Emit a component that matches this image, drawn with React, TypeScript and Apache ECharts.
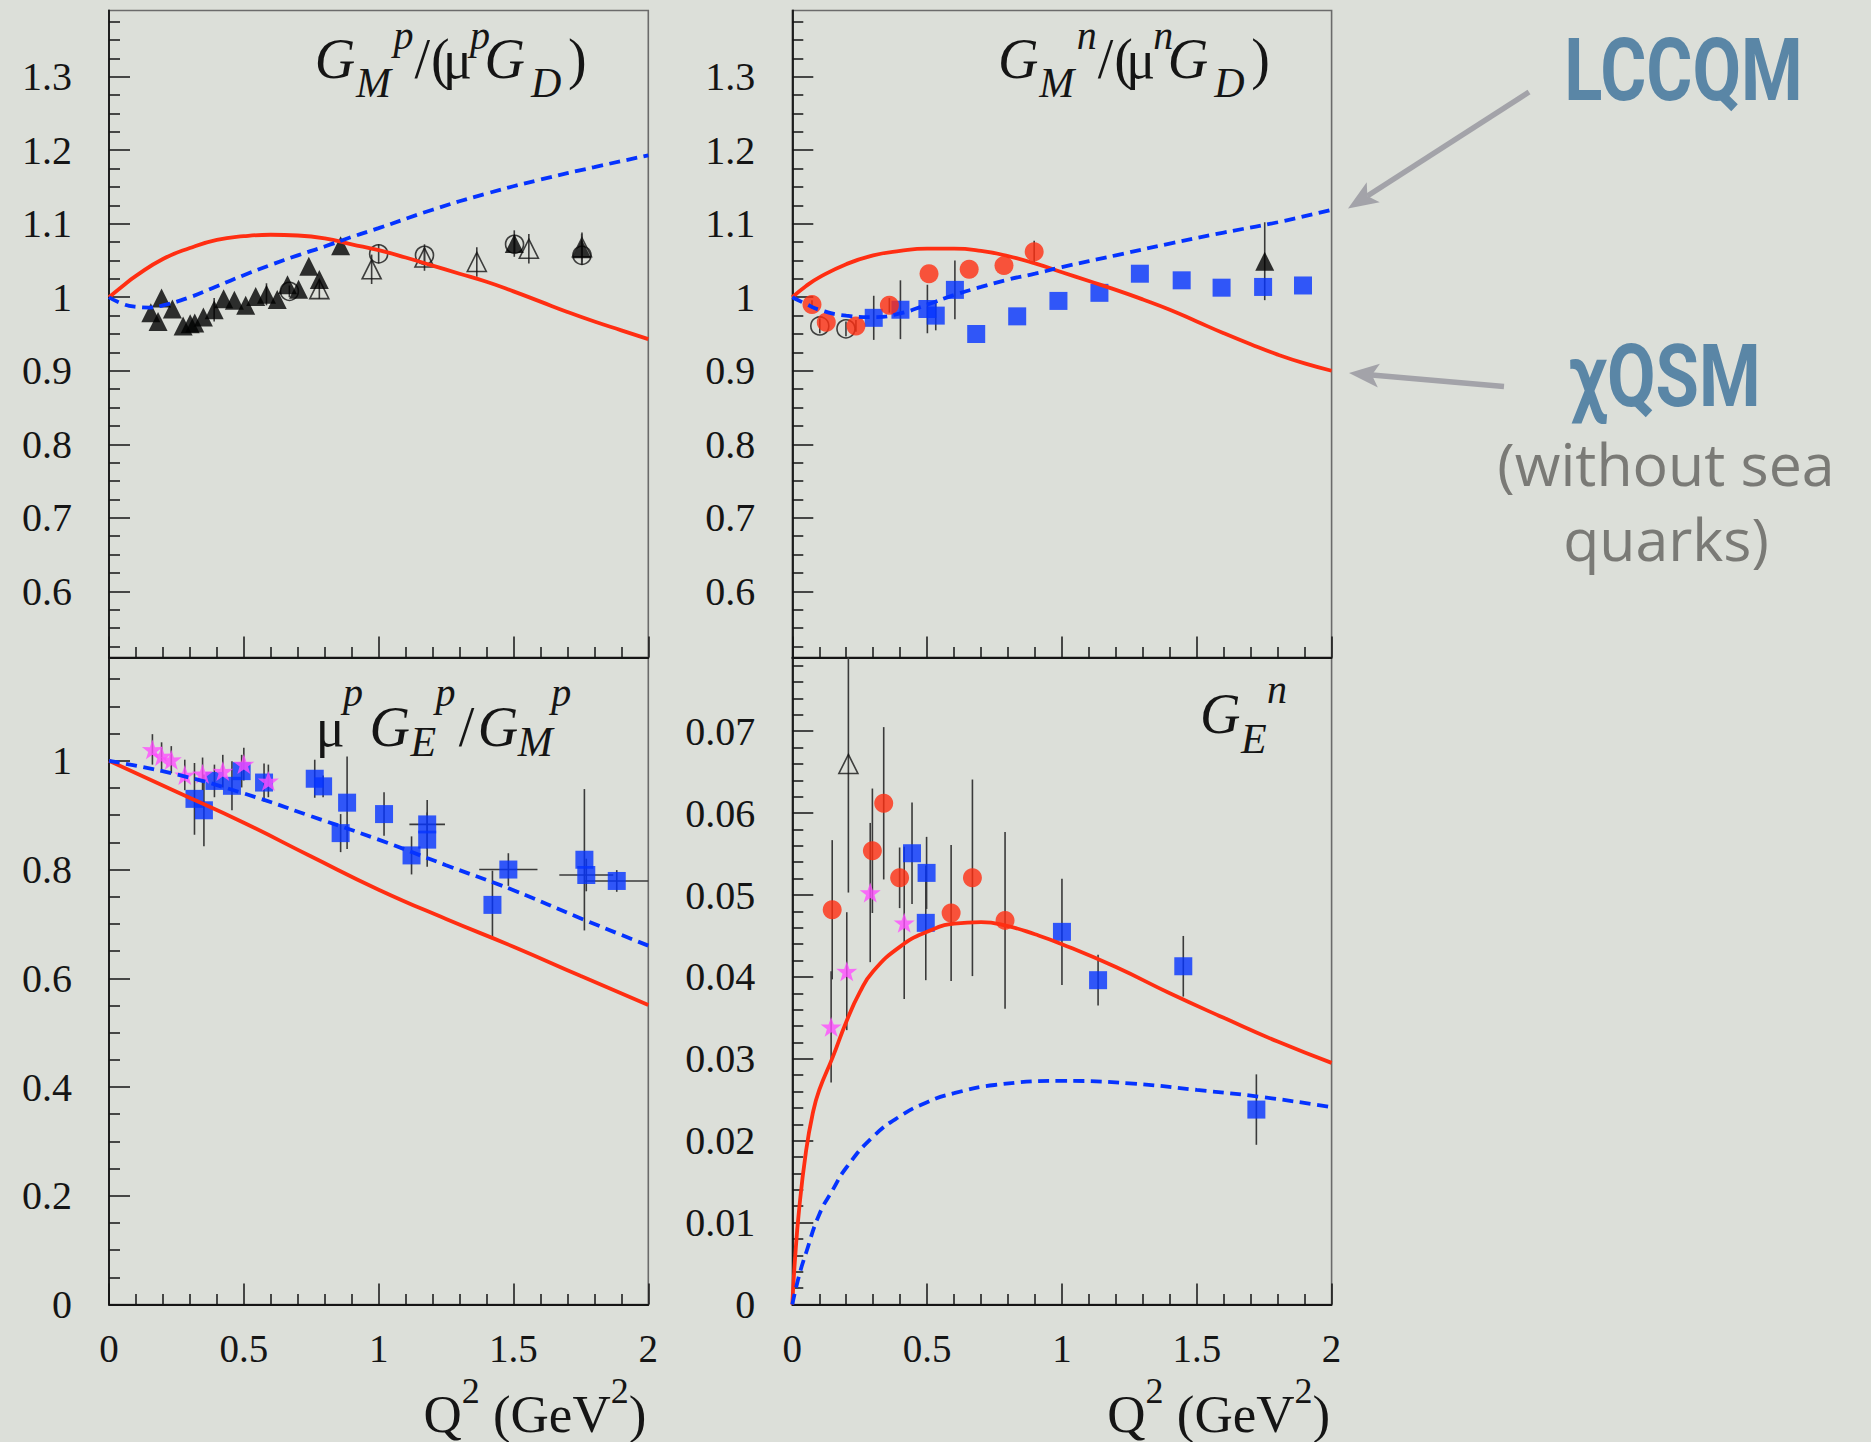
import { useEffect, useRef } from "react";
import * as echarts from "echarts";

const WIDTH = 1871;
const HEIGHT = 1442;
const BG = "#dcdfd9";
const RED = "#ff2e12";
const BLUE = "#0533ff";
const MAGENTA = "#ff4dff";
const INK = "#151515";
const FRAME = "#6b6b6b";
const BAR = "#3a3a3a";
const ARROW = "#a3a3a9";
const STEEL = "#5a86a6";
const GREY_TEXT = "#7a7a76";
const SERIF = '"Liberation Serif", "Times New Roman", serif';

// ---------- axis ticks ----------
const gmTicks = [0.6, 0.7, 0.8, 0.9, 1, 1.1, 1.2, 1.3];
const gepTicks = [0, 0.2, 0.4, 0.6, 0.8, 1];
const genTicks = [0, 0.01, 0.02, 0.03, 0.04, 0.05, 0.06, 0.07];

// ---------- G_M^p / (mu_p G_D) ----------
const gmpChiX = [0, 0.05, 0.1, 0.2, 0.3, 0.4, 0.5, 0.6, 0.7, 0.8, 0.9, 1.0, 1.1, 1.2, 1.3, 1.4, 1.5, 1.6, 1.7, 1.8, 1.9, 2.0];
const gmpChiY = [1.0, 1.015, 1.029, 1.052, 1.067, 1.078, 1.083, 1.085, 1.084, 1.08, 1.072, 1.064, 1.054, 1.043, 1.032, 1.021, 1.008, 0.994, 0.98, 0.967, 0.955, 0.943];
const gmpLcX = [0, 0.05, 0.1, 0.15, 0.2, 0.3, 0.4, 0.5, 0.6, 0.7, 0.8, 0.9, 1.0, 1.2, 1.4, 1.6, 1.8, 2.0];
const gmpLcY = [1.0, 0.991, 0.987, 0.986, 0.989, 1.0, 1.015, 1.03, 1.044, 1.057, 1.069, 1.082, 1.094, 1.119, 1.141, 1.16, 1.177, 1.193];
// [Q2, value, error]
const gmpFilledTri = [
  [0.155, 0.979], [0.182, 0.967], [0.195, 0.999], [0.235, 0.984], [0.275, 0.961], [0.301, 0.964],
  [0.318, 0.965], [0.35, 0.973], [0.39, 0.983, 0.016], [0.425, 0.998], [0.465, 0.996], [0.507, 0.989],
  [0.544, 1.001], [0.584, 1.004, 0.015], [0.624, 0.997], [0.662, 1.017], [0.703, 1.011], [0.741, 1.042],
  [0.78, 1.024], [0.859, 1.07], [1.503, 1.073, 0.018], [1.753, 1.066, 0.02],
];
const gmpOpenTri = [[0.78, 1.011, 0.013], [0.974, 1.038, 0.02], [1.17, 1.054, 0.018], [1.364, 1.048, 0.02], [1.557, 1.066, 0.02], [1.754, 1.068, 0.02]];
const gmpOpenCircle = [[0.669, 1.008, 0.008], [1.0, 1.059, 0.013], [1.17, 1.057, 0.01], [1.504, 1.072, 0.012], [1.754, 1.057, 0.013]];

// ---------- G_M^n / (mu_n G_D) ----------
const gmnChiX = [0, 0.05, 0.1, 0.2, 0.3, 0.4, 0.5, 0.6, 0.7, 0.8, 0.9, 1.0, 1.1, 1.2, 1.3, 1.4, 1.5, 1.6, 1.7, 1.8, 1.9, 2.0];
const gmnChiY = [1.0, 1.015, 1.027, 1.045, 1.057, 1.063, 1.066, 1.066, 1.063, 1.056, 1.046, 1.034, 1.022, 1.01, 0.997, 0.983, 0.967, 0.951, 0.936, 0.922, 0.91, 0.9];
const gmnLcX = [0, 0.05, 0.1, 0.2, 0.3, 0.4, 0.5, 0.6, 0.7, 0.8, 0.9, 1.0, 1.2, 1.4, 1.6, 1.8, 2.0];
const gmnLcY = [1.0, 0.991, 0.983, 0.975, 0.973, 0.978, 0.99, 1.003, 1.014, 1.024, 1.032, 1.041, 1.057, 1.073, 1.088, 1.102, 1.119];
const gmnRedCircle = [[0.073, 0.99, 0.006], [0.126, 0.966], [0.236, 0.961, 0.008], [0.36, 0.989, 0.01], [0.507, 1.032], [0.656, 1.038], [0.785, 1.043], [0.897, 1.062, 0.015]];
const gmnOpenCircle = [[0.102, 0.961, 0.01], [0.199, 0.957, 0.01]];
const gmnSquare = [
  [0.302, 0.972, 0.03], [0.401, 0.983, 0.04], [0.501, 0.984, 0.033], [0.532, 0.975, 0.02], [0.603, 1.01, 0.04],
  [0.682, 0.95], [0.834, 0.974], [0.987, 0.995], [1.139, 1.006], [1.289, 1.032], [1.444, 1.023], [1.592, 1.013],
  [1.746, 1.014], [1.894, 1.016],
];
const gmnFilledTri = [[1.752, 1.049, 0.053]];

// ---------- mu_p G_E^p / G_M^p ----------
const gepChiX = [0, 0.25, 0.5, 0.75, 1.0, 1.25, 1.5, 1.75, 2.0];
const gepChiY = [1.0, 0.943, 0.886, 0.824, 0.763, 0.709, 0.658, 0.604, 0.551];
const gepLcX = [0, 0.25, 0.5, 0.75, 1.0, 1.25, 1.5, 1.75, 2.0];
const gepLcY = [1.0, 0.975, 0.94, 0.898, 0.855, 0.808, 0.762, 0.71, 0.66];
// [Q2, value, error, Q2 error]
const gepSquare = [
  [0.317, 0.93, 0.066], [0.352, 0.909, 0.066], [0.391, 0.963, 0.03], [0.456, 0.954, 0.045], [0.492, 0.981, 0.03],
  [0.575, 0.96, 0.035], [0.763, 0.967, 0.035], [0.794, 0.953, 0.02], [0.859, 0.867, 0.035], [0.883, 0.923, 0.085],
  [1.02, 0.902, 0.04], [1.122, 0.826, 0.035], [1.18, 0.883, 0.045, 0.066], [1.18, 0.855, 0.05], [1.422, 0.735, 0.063],
  [1.481, 0.8, 0.03, 0.108], [1.763, 0.818, 0.13], [1.77, 0.79, 0.03, 0.1], [1.883, 0.779, 0.02, 0.12],
];
const gepStar = [[0.161, 1.021, 0.028], [0.195, 1.009, 0.025], [0.231, 1.002, 0.025], [0.281, 0.974, 0.028], [0.347, 0.976, 0.03], [0.422, 0.981, 0.03], [0.5, 0.994, 0.03], [0.591, 0.963, 0.03]];

// ---------- G_E^n ----------
const genChiX = [0, 0.01, 0.025, 0.05, 0.075, 0.1, 0.15, 0.2, 0.25, 0.3, 0.4, 0.5, 0.6, 0.7, 0.8, 0.9, 1.0, 1.2, 1.4, 1.6, 1.8, 2.0];
const genChiY = [0, 0.0055, 0.0115, 0.0185, 0.0232, 0.0262, 0.0302, 0.0345, 0.0381, 0.0407, 0.0437, 0.0455, 0.0465, 0.0467, 0.0462, 0.0452, 0.044, 0.0412, 0.038, 0.035, 0.0321, 0.0295];
const genLcX = [0, 0.025, 0.05, 0.1, 0.15, 0.2, 0.3, 0.4, 0.5, 0.6, 0.75, 1.0, 1.25, 1.5, 1.75, 2.0];
const genLcY = [0, 0.0035, 0.0062, 0.011, 0.014, 0.0167, 0.0205, 0.023, 0.0247, 0.0258, 0.0268, 0.0273, 0.027, 0.0262, 0.0253, 0.0241];
const genRedCircle = [[0.148, 0.0482, 0.0085], [0.297, 0.0554, 0.0076], [0.339, 0.0612, 0.0093], [0.398, 0.0521, 0.0037], [0.589, 0.0478, 0.0083], [0.668, 0.0521, 0.012], [0.789, 0.0469, 0.0108]];
const genSquare = [[0.444, 0.0551, 0.0062], [0.498, 0.0527, 0.0044], [0.495, 0.0466, 0.007], [1.0, 0.0455, 0.0065], [1.134, 0.0396, 0.0031], [1.45, 0.0413, 0.0037], [1.721, 0.0238, 0.0043]];
const genStar = [[0.144, 0.0339, 0.0068], [0.202, 0.0407, 0.0072], [0.289, 0.0503, 0.0085], [0.415, 0.0466, 0.0093]];
const genOpenTri = [[0.208, 0.066, 0.0157]];

// ---------- layout ----------
const PANEL_W = 539.3;
const PANEL_H = 647;
const LEFT_X = 109;
const RIGHT_X = 792.3;
const TOP_Y = 10.5;
const MID_Y = 657.5;

const panels = [
  { left: LEFT_X, top: TOP_Y, yMin: 0.51, yMax: 1.39, major: gmTicks, minorStep: 0.025, xLabels: false },
  { left: RIGHT_X, top: TOP_Y, yMin: 0.51, yMax: 1.39, major: gmTicks, minorStep: 0.025, xLabels: false },
  { left: LEFT_X, top: MID_Y, yMin: 0, yMax: 1.19, major: gepTicks, minorStep: 0.05, xLabels: true },
  { left: RIGHT_X, top: MID_Y, yMin: 0, yMax: 0.079, major: genTicks, minorStep: 0.002, xLabels: true },
];

const STAR = "path://M50,0 L61.8,35.1 L97.6,34.5 L69.1,56.6 L79.4,90.5 L50,70 L20.6,90.5 L30.9,56.6 L2.4,34.5 L38.2,35.1 Z";

function minorTicks(min: number, max: number, step: number, majors: number[]) {
  const out: number[] = [];
  for (let k = Math.ceil(min / step - 1e-9); k * step <= max + 1e-9; k++) {
    const v = +(k * step).toFixed(6);
    if (!majors.some((m) => Math.abs(m - v) < 1e-9)) out.push(v);
  }
  return out;
}

const tickLine = { color: INK, width: 1.5 };

function buildAxes() {
  const grids: any[] = [];
  const xAxes: any[] = [];
  const yAxes: any[] = [];
  panels.forEach((p, i) => {
    grids.push({
      left: p.left, top: p.top, width: PANEL_W, height: PANEL_H,
      show: true, borderColor: FRAME, borderWidth: 1.6, backgroundColor: "transparent",
    });
    xAxes.push({
      gridIndex: i, type: "value", min: 0, max: 2, interval: 0.5,
      axisLine: { show: true, onZero: false, lineStyle: { color: INK, width: 1.8 } },
      axisTick: { show: true, inside: true, length: 21, lineStyle: tickLine },
      minorTick: { show: true, splitNumber: 5, length: 10.5, lineStyle: tickLine },
      splitLine: { show: false },
      minorSplitLine: { show: false },
      axisLabel: {
        show: p.xLabels, margin: 24, fontFamily: SERIF, fontSize: 39, lineHeight: 39, color: INK,
        showMinLabel: true, showMaxLabel: true,
        formatter: (v: number) => `${+v.toFixed(3)}`,
      },
    });
    yAxes.push({
      gridIndex: i, type: "value", position: "left", min: p.yMin, max: p.yMax,
      axisLine: { show: true, onZero: false, lineStyle: { color: INK, width: 1.8 } },
      axisTick: { show: true, inside: true, length: 21, customValues: p.major, lineStyle: tickLine },
      axisLabel: {
        show: true, customValues: p.major, margin: 37, fontFamily: SERIF, fontSize: 40, lineHeight: 40, color: INK,
        formatter: (v: number) => `${+v.toFixed(4)}`,
      },
      splitLine: { show: false },
    });
    yAxes.push({
      gridIndex: i, type: "value", position: "left", offset: 0, min: p.yMin, max: p.yMax,
      axisLine: { show: false },
      axisTick: { show: true, inside: true, length: 11, customValues: minorTicks(p.yMin, p.yMax, p.minorStep, p.major), lineStyle: tickLine },
      axisLabel: { show: false },
      splitLine: { show: false },
    });
  });
  return { grids, xAxes, yAxes };
}

function curve(panel: number, xs: number[], ys: number[], dashed: boolean) {
  return {
    type: "line", xAxisIndex: panel, yAxisIndex: panel * 2, z: 4, silent: true,
    symbol: "none", smooth: 0.5, clip: true,
    data: xs.map((x, k) => [x, ys[k]]),
    lineStyle: dashed ? { color: BLUE, width: 3.8, type: [11, 6.5] } : { color: RED, width: 3.8 },
  };
}

function markers(panel: number, pts: number[][], symbol: string, size: number, itemStyle: any) {
  return {
    type: "scatter", xAxisIndex: panel, yAxisIndex: panel * 2, z: 3, silent: true,
    symbol, symbolSize: size, symbolKeepAspect: true, itemStyle,
    data: pts.map((p) => [p[0], p[1]]),
  };
}

function errorBars(panel: number, pts: number[][]) {
  return {
    type: "custom", xAxisIndex: panel, yAxisIndex: panel * 2, z: 2, silent: true,
    data: pts.map((p) => [p[0], p[1], p[2] || 0, p[3] || 0]),
    renderItem: (params: any, api: any) => {
      const cs = params.coordSys;
      const cy = (v: number) => Math.max(cs.y, Math.min(cs.y + cs.height, v));
      const cx = (v: number) => Math.max(cs.x, Math.min(cs.x + cs.width, v));
      const x = api.value(0);
      const y = api.value(1);
      const ey = api.value(2);
      const ex = api.value(3);
      const kids: any[] = [];
      const style = { stroke: BAR, lineWidth: 1.6 };
      if (ey > 0) {
        const lo = api.coord([x, y - ey]);
        const hi = api.coord([x, y + ey]);
        kids.push({ type: "line", shape: { x1: lo[0], y1: cy(lo[1]), x2: hi[0], y2: cy(hi[1]) }, style });
      }
      if (ex > 0) {
        const lo = api.coord([x - ex, y]);
        const hi = api.coord([x + ex, y]);
        kids.push({ type: "line", shape: { x1: cx(lo[0]), y1: lo[1], x2: cx(hi[0]), y2: hi[1] }, style });
      }
      return { type: "group", children: kids };
    },
  };
}

const filled = (c: string) => ({ color: c });
const hollow = { color: "transparent", borderColor: INK, borderWidth: 1.6 };

function buildSeries() {
  return [
    // G_M^p
    errorBars(0, [...gmpFilledTri, ...gmpOpenTri, ...gmpOpenCircle]),
    markers(0, gmpOpenCircle, "circle", 18, hollow),
    markers(0, gmpOpenTri, "triangle", 19, hollow),
    markers(0, gmpFilledTri, "triangle", 19, filled("#000")),
    curve(0, gmpChiX, gmpChiY, false),
    curve(0, gmpLcX, gmpLcY, true),
    // G_M^n
    errorBars(1, [...gmnRedCircle, ...gmnOpenCircle, ...gmnSquare, ...gmnFilledTri]),
    markers(1, gmnOpenCircle, "circle", 18, hollow),
    markers(1, gmnSquare, "rect", 18, filled(BLUE)),
    markers(1, gmnRedCircle, "circle", 19, filled(RED)),
    markers(1, gmnFilledTri, "triangle", 19, filled("#000")),
    curve(1, gmnChiX, gmnChiY, false),
    curve(1, gmnLcX, gmnLcY, true),
    // G_E^p / G_M^p
    errorBars(2, [...gepSquare, ...gepStar]),
    markers(2, gepSquare, "rect", 18, filled(BLUE)),
    markers(2, gepStar, STAR, 21, filled(MAGENTA)),
    curve(2, gepChiX, gepChiY, false),
    curve(2, gepLcX, gepLcY, true),
    // G_E^n
    errorBars(3, [...genRedCircle, ...genSquare, ...genStar, ...genOpenTri]),
    markers(3, genOpenTri, "triangle", 19, hollow),
    markers(3, genRedCircle, "circle", 19, filled(RED)),
    markers(3, genSquare, "rect", 18, filled(BLUE)),
    markers(3, genStar, STAR, 21, filled(MAGENTA)),
    curve(3, genChiX, genChiY, false),
    curve(3, genLcX, genLcY, true),
  ];
}

// ---------- text helpers ----------
// Liberation Serif: central baseline sits ~0.337 em above the alphabetic one
const SERIF_CENTRAL = 0.337;

type Piece = [string, number, number, number, boolean];

function texPieces(pieces: Piece[]) {
  return pieces.map(([t, x, base, size, italic]) => ({
    type: "text", x, y: base - SERIF_CENTRAL * size, silent: true,
    style: {
      text: t, fontFamily: SERIF, fontSize: size, fontStyle: italic ? "italic" : "normal",
      fill: INK, align: "left", verticalAlign: "middle",
    },
  }));
}

function shiftPieces(pieces: Piece[], dx: number, swap?: [string, string]): Piece[] {
  return pieces.map(([t, x, b, s, i]) => [swap && t === swap[0] ? swap[1] : t, x + dx, b, s, i]);
}

const MAIN = 56;
const SUB = 42;
const SUP = 40;
const MU = 54;

const gmpTitle: Piece[] = [
  ["G", 314.8, 78, MAIN, true], ["M", 356, 97.6, SUB, true], ["p", 393.5, 49, SUP, true],
  ["/", 414.5, 78, MAIN, false], ["(", 431, 78, MAIN, false], ["μ", 443, 78, MU, false],
  ["p", 470, 49, SUP, true], ["G", 484.5, 78, MAIN, true], ["D", 531, 97.6, SUB, true], [")", 568, 78, MAIN, false],
];
const gmnTitle = shiftPieces(gmpTitle, RIGHT_X - LEFT_X, ["p", "n"]);
const gepTitle: Piece[] = [
  ["μ", 315.7, 746, MU, false], ["p", 343, 706, SUP, true], ["G", 369.5, 746, MAIN, true], ["E", 410.4, 756, SUB, true],
  ["p", 435.6, 706, SUP, true], ["/", 458.8, 746, MAIN, false], ["G", 477.7, 746, MAIN, true], ["M", 517.7, 756, SUB, true],
  ["p", 551.3, 706, SUP, true],
];
const genTitle: Piece[] = [
  ["G", 1199.9, 733.3, MAIN, true], ["E", 1241, 753.5, SUB, true], ["n", 1267.1, 703, SUP, true],
];

let measureCtx: CanvasRenderingContext2D | null = null;
function textWidth(text: string, size: number) {
  if (!measureCtx) measureCtx = document.createElement("canvas").getContext("2d");
  measureCtx!.font = `${size}px "Liberation Serif"`;
  return measureCtx!.measureText(text).width;
}

// "Q^2 (GeV^2)" right-aligned at the panel's right edge
function axisName(rightEdge: number) {
  const BIG = 53, SMALL = 36, BASE = 1431.7, SUP_BASE = 1403;
  const parts: [string, boolean][] = [["Q", false], ["2", true], [" (GeV", false], ["2", true], [")", false]];
  const widths = parts.map(([t, sup]) => textWidth(t, sup ? SMALL : BIG));
  let x = rightEdge - widths.reduce((a, b) => a + b, 0);
  const pieces: Piece[] = [];
  parts.forEach(([t, sup], k) => {
    pieces.push([t, x, sup ? SUP_BASE : BASE, sup ? SMALL : BIG, false]);
    x += widths[k];
  });
  return texPieces(pieces);
}

function arrow(sx: number, sy: number, tx: number, ty: number) {
  const len = Math.hypot(tx - sx, ty - sy);
  const ux = (tx - sx) / len;
  const uy = (ty - sy) / len;
  const nx = -uy;
  const ny = ux;
  const L = 30, HW = 12, NOTCH = 7;
  const bx = tx - ux * L;
  const by = ty - uy * L;
  const nxp = bx + ux * NOTCH;
  const nyp = by + uy * NOTCH;
  return [
    { type: "line", silent: true, shape: { x1: sx, y1: sy, x2: nxp, y2: nyp }, style: { stroke: ARROW, lineWidth: 5.5 } },
    {
      type: "polygon", silent: true,
      shape: { points: [[tx, ty], [bx + nx * HW, by + ny * HW], [nxp, nyp], [bx - nx * HW, by - ny * HW]] },
      style: { fill: ARROW },
    },
  ];
}

function annotations() {
  const ROBOTO_CENTRAL = 0.342;
  const OPEN_CENTRAL = 0.388;
  return [
    {
      type: "text", x: 1683.5, y: 100 - ROBOTO_CENTRAL * 87, scaleX: 0.81, silent: true,
      style: { text: "LCCQM", fontFamily: "Roboto", fontWeight: "bold", fontSize: 87, fill: STEEL, align: "center", verticalAlign: "middle" },
    },
    {
      type: "text", x: 1665, y: 405.7 - ROBOTO_CENTRAL * 87, scaleX: 0.81, silent: true,
      style: { text: "χQSM", fontFamily: "Roboto", fontWeight: "bold", fontSize: 87, fill: STEEL, align: "center", verticalAlign: "middle" },
    },
    {
      type: "text", x: 1666, y: 486 - OPEN_CENTRAL * 59, silent: true,
      style: { text: "(without sea", fontFamily: '"Open Sans"', fontSize: 59, fill: GREY_TEXT, align: "center", verticalAlign: "middle" },
    },
    {
      type: "text", x: 1666, y: 560.7 - OPEN_CENTRAL * 59, silent: true,
      style: { text: "quarks)", fontFamily: '"Open Sans"', fontSize: 59, fill: GREY_TEXT, align: "center", verticalAlign: "middle" },
    },
    ...arrow(1529, 92, 1348, 208.5),
    ...arrow(1504, 386.5, 1349, 373),
  ];
}

function buildOption() {
  const { grids, xAxes, yAxes } = buildAxes();
  return {
    animation: false,
    backgroundColor: BG,
    textStyle: { fontFamily: SERIF },
    grid: grids,
    xAxis: xAxes,
    yAxis: yAxes,
    series: buildSeries(),
    graphic: {
      elements: [
        ...texPieces(gmpTitle),
        ...texPieces(gmnTitle),
        ...texPieces(gepTitle),
        ...texPieces(genTitle),
        ...axisName(LEFT_X + PANEL_W - 2),
        ...axisName(RIGHT_X + PANEL_W - 1.5),
        ...annotations(),
      ],
    },
  };
}

export default function App() {
  const ref = useRef<HTMLDivElement>(null);
  useEffect(() => {
    if (!ref.current) return;
    const chart = echarts.init(ref.current, null, { renderer: "svg" });
    chart.setOption(buildOption() as any);
    return () => chart.dispose();
  }, []);
  return (
    <div
      ref={ref}
      style={{ position: "fixed", left: 0, top: 0, width: WIDTH, height: HEIGHT, background: BG }}
    />
  );
}
